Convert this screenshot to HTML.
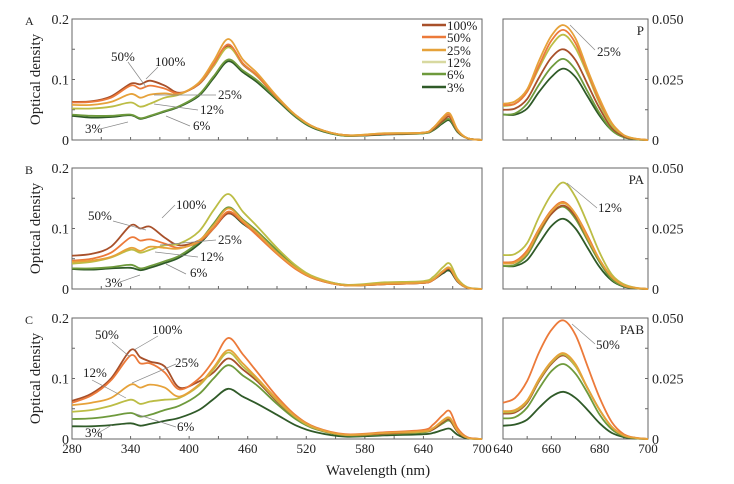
<!DOCTYPE html>
<html><head><meta charset="utf-8"><style>
html,body{margin:0;padding:0;background:#fff;}
svg{display:block;font-family:"Liberation Serif",serif;}
</style></head><body>
<svg id="chart" width="734" height="484" viewBox="0 0 734 484" xmlns="http://www.w3.org/2000/svg"></svg>
<script>
const seriesNames=["100%","50%","25%","12%","6%","3%"];
const seriesColors=["#a8502a","#ec7a3a","#e6a23a","#bcbd45","#6e9a3c","#2f5a28"];
const legendColors=["#a8502a","#ec7a3a","#e6a23a","#d8d9a0","#6e9a3c","#2f5a28"];
const wlLeft=[280,300,320,340,350,360,375,390,410,425,440,455,470,490,510,530,560,600,640,650,660,667,675,685,700];
const A100=[0.063,0.064,0.072,0.093,0.092,0.098,0.09,0.078,0.092,0.122,0.155,0.125,0.105,0.07,0.04,0.02,0.008,0.01,0.012,0.018,0.032,0.038,0.015,0.003,0];
const A50=[0.062,0.063,0.07,0.09,0.085,0.09,0.085,0.077,0.093,0.125,0.158,0.127,0.106,0.07,0.04,0.02,0.008,0.01,0.012,0.02,0.036,0.041,0.016,0.003,0];
const A25=[0.058,0.058,0.063,0.076,0.07,0.075,0.077,0.076,0.095,0.13,0.167,0.133,0.11,0.072,0.04,0.02,0.008,0.011,0.012,0.02,0.038,0.044,0.017,0.003,0];
const A12=[0.052,0.052,0.055,0.062,0.055,0.06,0.07,0.075,0.093,0.122,0.153,0.126,0.105,0.07,0.04,0.02,0.008,0.011,0.012,0.02,0.035,0.041,0.016,0.003,0];
const A6=[0.042,0.04,0.04,0.042,0.036,0.04,0.048,0.056,0.075,0.105,0.133,0.115,0.098,0.068,0.038,0.019,0.007,0.01,0.011,0.017,0.03,0.034,0.014,0.003,0];
const A3=[0.04,0.037,0.038,0.041,0.035,0.039,0.047,0.055,0.073,0.102,0.13,0.112,0.095,0.066,0.037,0.018,0.007,0.009,0.011,0.016,0.028,0.032,0.013,0.003,0];
const B100=[0.055,0.058,0.07,0.105,0.1,0.103,0.085,0.072,0.08,0.1,0.125,0.11,0.09,0.06,0.033,0.016,0.006,0.008,0.01,0.015,0.028,0.033,0.013,0.002,0];
const B50=[0.047,0.05,0.06,0.085,0.08,0.082,0.075,0.068,0.078,0.1,0.128,0.11,0.088,0.058,0.032,0.016,0.006,0.008,0.01,0.015,0.029,0.034,0.013,0.002,0];
const B25=[0.045,0.047,0.053,0.068,0.063,0.07,0.068,0.067,0.08,0.105,0.133,0.113,0.092,0.06,0.034,0.017,0.006,0.009,0.011,0.016,0.03,0.035,0.014,0.002,0];
const B12=[0.042,0.045,0.052,0.065,0.06,0.065,0.072,0.075,0.095,0.13,0.157,0.128,0.103,0.068,0.038,0.019,0.007,0.011,0.013,0.02,0.036,0.042,0.017,0.003,0];
const B6=[0.034,0.034,0.036,0.04,0.034,0.038,0.046,0.055,0.078,0.108,0.135,0.115,0.095,0.064,0.036,0.018,0.007,0.009,0.011,0.016,0.03,0.034,0.013,0.002,0];
const B3=[0.033,0.032,0.034,0.035,0.031,0.035,0.043,0.052,0.074,0.1,0.125,0.108,0.09,0.06,0.034,0.017,0.006,0.008,0.01,0.015,0.026,0.03,0.012,0.002,0];
const C100=[0.063,0.075,0.1,0.147,0.135,0.128,0.12,0.085,0.095,0.11,0.133,0.115,0.095,0.062,0.035,0.017,0.007,0.009,0.012,0.016,0.028,0.032,0.012,0.002,0];
const C50=[0.06,0.072,0.097,0.138,0.125,0.125,0.11,0.082,0.1,0.13,0.167,0.14,0.11,0.07,0.038,0.019,0.008,0.011,0.015,0.024,0.04,0.046,0.018,0.003,0];
const C25=[0.056,0.06,0.068,0.09,0.085,0.09,0.085,0.07,0.09,0.118,0.147,0.125,0.1,0.066,0.036,0.018,0.007,0.01,0.013,0.018,0.031,0.035,0.014,0.002,0];
const C12=[0.045,0.048,0.055,0.065,0.058,0.062,0.065,0.068,0.088,0.115,0.143,0.12,0.098,0.064,0.035,0.017,0.007,0.01,0.012,0.018,0.03,0.034,0.014,0.002,0];
const C6=[0.033,0.034,0.038,0.043,0.037,0.04,0.048,0.055,0.074,0.1,0.122,0.105,0.088,0.058,0.032,0.016,0.006,0.008,0.011,0.016,0.026,0.03,0.012,0.002,0];
const C3=[0.021,0.021,0.023,0.026,0.022,0.025,0.03,0.035,0.048,0.066,0.083,0.07,0.058,0.04,0.022,0.011,0.004,0.006,0.008,0.01,0.015,0.017,0.007,0.001,0];
const wlRight=[640,645,650,655,660,665,670,675,680,685,690,695,700];
const RA100=[0.0125,0.013,0.017,0.026,0.034,0.0375,0.033,0.023,0.013,0.005,0.0015,0.0004,0];
const RA50=[0.0145,0.015,0.02,0.031,0.041,0.0455,0.04,0.028,0.016,0.007,0.002,0.0005,0];
const RA25=[0.015,0.016,0.021,0.033,0.043,0.0475,0.042,0.029,0.017,0.007,0.002,0.0005,0];
const RA12=[0.014,0.015,0.02,0.03,0.039,0.0435,0.038,0.027,0.015,0.006,0.002,0.0005,0];
const RA6=[0.0105,0.011,0.015,0.023,0.03,0.0335,0.029,0.02,0.011,0.004,0.0012,0.0003,0];
const RA3=[0.0105,0.0105,0.013,0.02,0.026,0.0295,0.026,0.018,0.01,0.004,0.0012,0.0003,0];
const RB100=[0.0105,0.011,0.015,0.024,0.031,0.0345,0.03,0.021,0.012,0.005,0.0015,0.0004,0];
const RB50=[0.011,0.0115,0.016,0.025,0.0325,0.036,0.031,0.022,0.012,0.005,0.0015,0.0004,0];
const RB25=[0.0105,0.011,0.015,0.0245,0.032,0.0355,0.031,0.021,0.012,0.005,0.0015,0.0004,0];
const RB12=[0.014,0.0145,0.019,0.03,0.039,0.044,0.038,0.027,0.015,0.006,0.002,0.0005,0];
const RB6=[0.0095,0.01,0.014,0.023,0.031,0.034,0.029,0.02,0.011,0.004,0.0012,0.0003,0];
const RB3=[0.0095,0.0095,0.012,0.019,0.026,0.029,0.025,0.017,0.009,0.0035,0.001,0.0003,0];
const RC100=[0.0105,0.011,0.015,0.024,0.031,0.0345,0.03,0.021,0.012,0.005,0.0015,0.0004,0];
const RC50=[0.015,0.017,0.024,0.036,0.045,0.049,0.043,0.03,0.017,0.007,0.002,0.0005,0];
const RC25=[0.0115,0.012,0.016,0.025,0.032,0.0355,0.031,0.021,0.012,0.005,0.0015,0.0004,0];
const RC12=[0.011,0.0115,0.0155,0.0245,0.0315,0.035,0.03,0.021,0.012,0.005,0.0015,0.0004,0];
const RC6=[0.0085,0.009,0.013,0.021,0.028,0.031,0.027,0.019,0.01,0.004,0.0012,0.0003,0];
const RC3=[0.0055,0.006,0.008,0.013,0.0175,0.0195,0.017,0.012,0.0065,0.0025,0.0008,0.0002,0];
const leftTicks=["280","340","400","460","520","580","640","700"];
const rightTicks=["640","660","680","700"];
const leftYTicks=["0","0.1","0.2"];
const rightYTicks=["0","0.025","0.050"];

const svg=document.getElementById('chart');
const NS="http://www.w3.org/2000/svg";
function mk(tag,attrs,parent){const e=document.createElementNS(NS,tag);for(const k in attrs)e.setAttribute(k,attrs[k]);(parent||svg).appendChild(e);return e;}
function txt(x,y,s,anchor,size,parent){const t=mk('text',{x:x,y:y,'text-anchor':anchor||'start','font-size':size||13,fill:'#222'},parent);t.textContent=s;return t;}
function smooth(pts){let d="M"+pts[0][0].toFixed(1)+","+pts[0][1].toFixed(1);
 for(let i=0;i<pts.length-1;i++){const p0=pts[i-1]||pts[i],p1=pts[i],p2=pts[i+1],p3=pts[i+2]||p2;
 const c1=[p1[0]+(p2[0]-p0[0])/6,p1[1]+(p2[1]-p0[1])/6],c2=[p2[0]-(p3[0]-p1[0])/6,p2[1]-(p3[1]-p1[1])/6];
 d+=" C"+c1[0].toFixed(1)+","+c1[1].toFixed(1)+" "+c2[0].toFixed(1)+","+c2[1].toFixed(1)+" "+p2[0].toFixed(1)+","+p2[1].toFixed(1);}return d;}

const L={x0:72,x1:482,w0:280,w1:700,ymax:0.2};
const R={x0:503,x1:648,w0:640,w1:700,ymax:0.05};
const rows=[{top:19,bot:140,letter:"A",tag:"P",l:[A100,A50,A25,A12,A6,A3],r:[RA100,RA50,RA25,RA12,RA6,RA3]},
 {top:168,bot:289,letter:"B",tag:"PA",l:[B100,B50,B25,B12,B6,B3],r:[RB100,RB50,RB25,RB12,RB6,RB3]},
 {top:318,bot:439,letter:"C",tag:"PAB",l:[C100,C50,C25,C12,C6,C3],r:[RC100,RC50,RC25,RC12,RC6,RC3]}];

rows.forEach((row,ri)=>{
 const name="panel-"+row.letter.toLowerCase();
 const g=mk('g',{});
 
 
 [[L,wlLeft,row.l,'left'],[R,wlRight,row.r,'right']].forEach(([ax,wl,data,side])=>{
  const xs=w=>ax.x0+(w-ax.w0)/(ax.w1-ax.w0)*(ax.x1-ax.x0);
  const ys=v=>row.bot-v/ax.ymax*(row.bot-row.top);
  const frame=mk('rect',{x:ax.x0,y:row.top,width:ax.x1-ax.x0,height:row.bot-row.top,fill:'none',stroke:'#666','stroke-width':1},g);
  
  
  const step=side==='left'?30:10;
  for(let w=ax.w0+step;w<ax.w1;w+=step){mk('line',{x1:xs(w),x2:xs(w),y1:row.bot,y2:row.bot-3,stroke:'#666'},g);}
  const yticks=side==='left'?[0.05,0.1,0.15]:[0.0125,0.025,0.0375];
  yticks.forEach(v=>{const xx=side==='left'?ax.x0:ax.x1;mk('line',{x1:xx,x2:side==='left'?xx+3:xx-3,y1:ys(v),y2:ys(v),stroke:'#666'},g);});
  [5,4,0,3,1,2].forEach(s=>{
   const p=mk('path',{d:smooth(wl.map((w,i)=>[xs(w),ys(data[s][i])])),fill:'none',stroke:seriesColors[s],'stroke-width':1.8},g);
   
   
  });
  if(side==='left'){
   txt(ax.x0-3,row.top+5,leftYTicks[2],'end',14,g);
   txt(ax.x0-3,ys(0.1)+5,leftYTicks[1],'end',14,g);
   txt(ax.x0-3,row.bot+5,leftYTicks[0],'end',14,g);
  } else {
   txt(ax.x1+4,row.top+5,rightYTicks[2],'start',14,g);
   txt(ax.x1+4,ys(0.025)+5,rightYTicks[1],'start',14,g);
   txt(ax.x1+4,row.bot+5,rightYTicks[0],'start',14,g);
  }
 });
 const lt=txt(25,row.top+6,row.letter,'start',12,g);
 
 
 const tg=txt(R.x1-4,row.top+16,row.tag,'end',13,g);
 
 
 const yl=mk('text',{x:0,y:0,'text-anchor':'middle','font-size':15,fill:'#222',transform:'translate(40,'+((row.top+row.bot)/2)+') rotate(-90)'},g);
 yl.textContent="Optical density";
 
 
});

leftTicks.forEach(t=>{const w=+t;const e=txt(L.x0+(w-L.w0)/(L.w1-L.w0)*(L.x1-L.x0),453,t,'middle',13);
 
 });
rightTicks.forEach(t=>{const w=+t;const e=txt(R.x0+(w-R.w0)/(R.w1-R.w0)*(R.x1-R.x0),453,t,'middle',13);
 
 });
const xt=txt(378,475,"Wavelength (nm)",'middle',15);



const lg=mk('g',{});


const legY=[25,37,50,62,74,87];
seriesNames.forEach((s,i)=>{
 mk('line',{x1:422,x2:446,y1:legY[i],y2:legY[i],stroke:legendColors[i],'stroke-width':2.5},lg);
 const e=txt(447,legY[i]+5,s,'start',13,lg);
 
 
});

function note(s,tx,ty,x1,y1,x2,y2){const e=txt(tx,ty,s,'start',13);
 
 
 mk('line',{x1:x1,y1:y1,x2:x2,y2:y2,stroke:'#888','stroke-width':0.7});}
note("50%",111,61,128,62,146,87);
note("100%",155,66,158,67,146,79);
note("25%",218,99,216,95,154,95);
note("12%",200,114,198,110,154,104);
note("6%",193,130,190,126,166,116);
note("3%",85,133,100,129,128,122);
note("25%",597,56,595,50,570,25);
note("100%",176,209,175,205,162,218);
note("50%",88,220,113,221,146,230);
note("25%",218,244,216,240,160,245);
note("12%",200,261,198,257,155,252);
note("6%",190,277,186,274,166,264);
note("3%",105,287,120,282,140,275);
note("12%",598,212,597,208,567,183);
note("100%",152,334,158,336,134,350);
note("50%",95,339,112,342,130,357);
note("25%",175,367,176,364,132,383);
note("12%",83,377,92,380,126,398);
note("6%",177,431,176,427,136,414);
note("3%",85,437,98,433,112,425);
note("50%",596,349,595,344,572,324);
</script>
</body></html>
